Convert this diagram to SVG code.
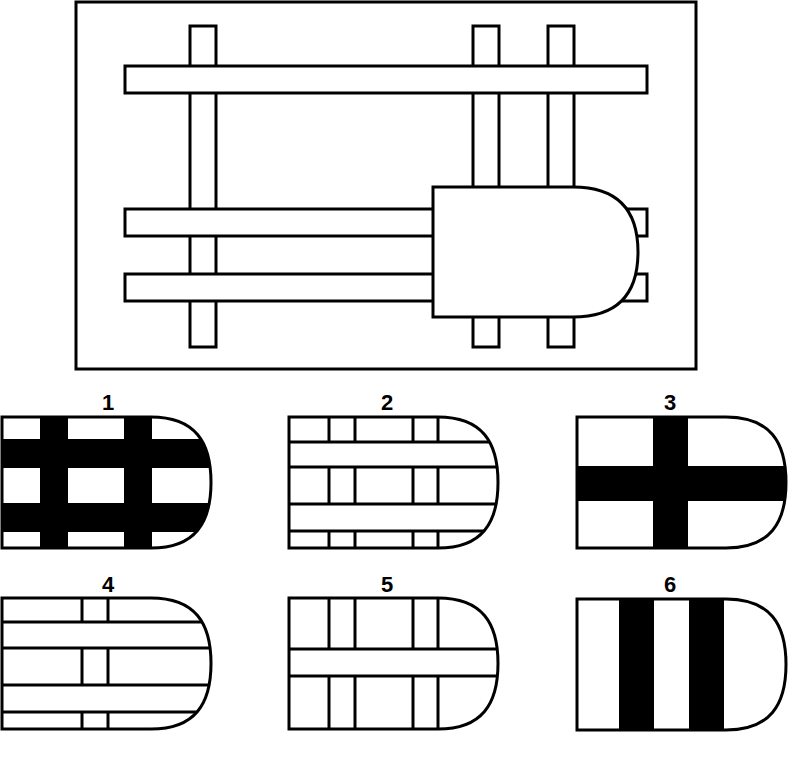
<svg xmlns="http://www.w3.org/2000/svg" xmlns:xlink="http://www.w3.org/1999/xlink" width="805" height="762" viewBox="0 0 805 762">
<style>
.o{fill:#fff;stroke:#000;stroke-width:3}
.l{fill:none;stroke:#000;stroke-width:3}
.k{fill:#000;stroke:none}
.t{font-family:"Liberation Sans",Arial,sans-serif;font-weight:bold;font-size:22px;text-anchor:middle;fill:#000}
</style>
<defs>
<path id="sh" d="M0,0 H149 C193,0 209,25 209,65.5 C209,106 193,131 149,131 H0 Z"/>
<clipPath id="cp"><use xlink:href="#sh"/></clipPath>
</defs>
<rect width="805" height="762" fill="#fff"/>
<g id="main">
<rect class="o" x="76" y="2" width="620" height="367"/>
<rect class="o" x="190" y="26" width="26" height="321"/>
<rect class="o" x="473" y="26" width="26" height="321"/>
<rect class="o" x="548" y="26" width="26" height="321"/>
<rect class="o" x="125" y="66" width="522" height="27"/>
<rect class="o" x="125" y="209" width="522" height="27"/>
<rect class="o" x="125" y="274" width="522" height="27"/>
<path class="o" d="M433,187 H573 C618,187 638,210 638,252 C638,294 618,317 573,317 H433 Z"/>
</g>
<g id="opt1" transform="translate(2,417)">
<g clip-path="url(#cp)">
<rect class="k" x="38" y="0" width="28" height="131"/>
<rect class="k" x="122" y="0" width="28" height="131"/>
<rect class="k" x="0" y="22" width="209" height="29"/>
<rect class="k" x="0" y="86" width="209" height="29"/>
</g>
<use xlink:href="#sh" class="l"/>
<text class="t" x="106" y="-7">1</text>
</g>
<g id="opt2" transform="translate(289,417)">
<g clip-path="url(#cp)" class="l">
<path d="M0,25 H209 M0,50 H209 M0,87 H209 M0,114 H209"/>
<path d="M40,0 V25 M66,0 V25 M124,0 V25 M149,0 V25 M40,50 V87 M66,50 V87 M124,50 V87 M149,50 V87 M40,114 V131 M66,114 V131 M124,114 V131 M149,114 V131"/>
</g>
<use xlink:href="#sh" class="l"/>
<text class="t" x="98" y="-7">2</text>
</g>
<g id="opt3" transform="translate(577,417)">
<g clip-path="url(#cp)">
<rect class="k" x="76" y="0" width="35" height="131"/>
<rect class="k" x="0" y="49" width="209" height="35"/>
</g>
<use xlink:href="#sh" class="l"/>
<text class="t" x="93" y="-7">3</text>
</g>
<g id="opt4" transform="translate(2,598)">
<g clip-path="url(#cp)" class="l">
<path d="M0,24 H209 M0,50 H209 M0,87 H209 M0,114 H209"/>
<path d="M80,0 V24 M106,0 V24 M80,50 V87 M106,50 V87 M80,114 V131 M106,114 V131"/>
</g>
<use xlink:href="#sh" class="l"/>
<text class="t" x="106" y="-6">4</text>
</g>
<g id="opt5" transform="translate(289,598)">
<g clip-path="url(#cp)" class="l">
<path d="M0,51 H209 M0,78 H209"/>
<path d="M40,0 V51 M66,0 V51 M124,0 V51 M149,0 V51 M40,78 V131 M66,78 V131 M124,78 V131 M149,78 V131"/>
</g>
<use xlink:href="#sh" class="l"/>
<text class="t" x="98" y="-6">5</text>
</g>
<g id="opt6" transform="translate(577,599)">
<g clip-path="url(#cp)">
<rect class="k" x="42" y="0" width="35" height="131"/>
<rect class="k" x="112" y="0" width="35" height="131"/>
</g>
<use xlink:href="#sh" class="l"/>
<text class="t" x="93" y="-7">6</text>
</g>
</svg>
